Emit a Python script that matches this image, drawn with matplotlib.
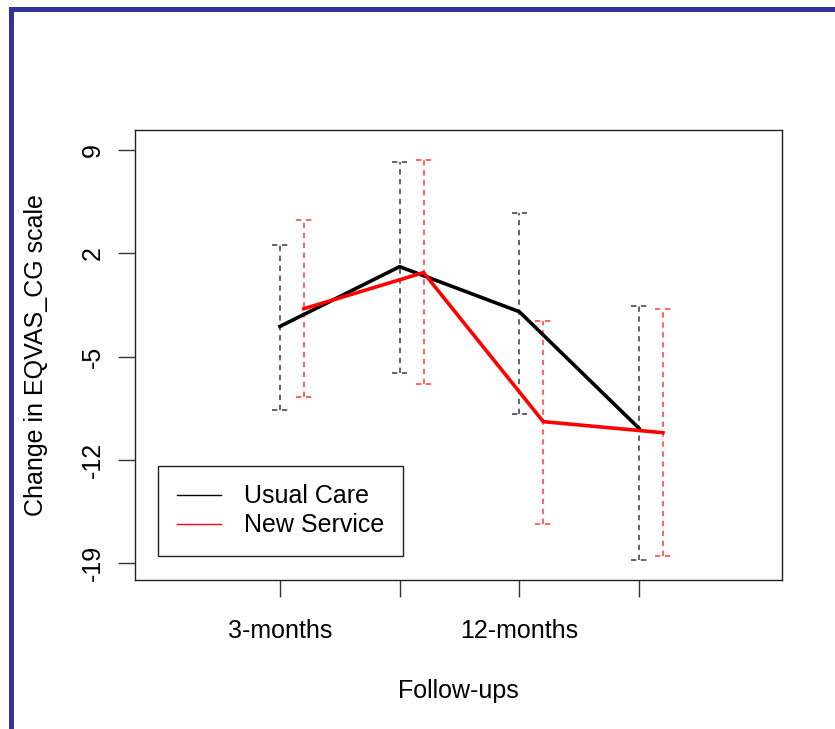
import matplotlib
matplotlib.use("Agg")
import matplotlib.pyplot as plt
from matplotlib.lines import Line2D
from matplotlib.patches import Rectangle
import numpy as np

plt.rcParams['font.family'] = ['Liberation Sans', 'DejaVu Sans']

# follow-up points (x positions 1..4), red series drawn with small offset
visits = [1, 2, 3, 4]
tick_labels = ["3-months", "", "12-months", ""]
offset = 0.2

usual_mean = [-2.95, 1.1, -1.95, -9.85]
usual_low = [-8.6, -6.1, -8.85, -18.75]
usual_high = [2.55, 8.2, 4.75, -1.55]

new_mean = [-1.75, 0.7, -9.4, -10.15]
new_low = [-7.7, -6.85, -16.35, -18.5]
new_high = [4.25, 8.35, -2.6, -1.8]

y_ticks = [9, 2, -5, -12, -19]

W, H = 835, 729
fig = plt.figure(figsize=(W / 100, H / 100), dpi=100)
fig.patch.set_facecolor('white')

# blue frame at left and top
fig.add_artist(Rectangle((9 / W, 0), 5 / W, 1 - 6.7 / H, transform=fig.transFigure,
                         facecolor='#333399', edgecolor='none'))
fig.add_artist(Rectangle((9 / W, 1 - 11.7 / H), 1 - 9 / W, 5 / H, transform=fig.transFigure,
                         facecolor='#333399', edgecolor='none'))

ax = fig.add_axes([135 / W, (H - 580) / H, (782 - 135) / W, (580 - 130) / H])

x1 = np.array(visits, dtype=float)
x2 = x1 + offset
cap = 0.065
dash = (0, (3.5, 3))


def draw_bars(x, low, high, color):
    ax.vlines(x, low, high, colors=color, linestyles=dash, lw=1.1)
    ax.hlines(low, x - cap, x + cap, colors=color, linestyles=dash, lw=1.1)
    ax.hlines(high, x - cap, x + cap, colors=color, linestyles=dash, lw=1.1)


draw_bars(x1, usual_low, usual_high, '#3a3a3a')
draw_bars(x2, new_low, new_high, '#ff3838')

ax.plot(x1, usual_mean, color='black', lw=2.6)
ax.plot(x2, new_mean, color='#ff0000', lw=2.6)

ax.set_xlim(-0.211, 5.195)
ax.set_ylim(-20.13, 10.36)

ax.set_xticks(visits)
ax.set_xticklabels(tick_labels, fontsize=18)
ax.set_yticks(y_ticks)
ax.set_yticklabels([str(v) for v in y_ticks], fontsize=18, rotation=90, va='center')
ax.tick_params(axis='both', length=12, width=1, color='#333333', direction='out')
ax.tick_params(axis='x', pad=16)
ax.tick_params(axis='y', pad=10)
for s in ax.spines.values():
    s.set_linewidth(1)
    s.set_color('#222222')

ax.set_xlabel("Follow-ups", fontsize=18, labelpad=26)
ax.set_ylabel("Change in EQVAS_CG scale", fontsize=18, labelpad=23)

handles = [Line2D([], [], color='black', lw=1),
           Line2D([], [], color='#ff0000', lw=1)]
leg = ax.legend(handles, ["Usual Care", "New Service"], fontsize=18,
                loc='lower left', bbox_to_anchor=(0.0355, 0.0533),
                borderaxespad=0, fancybox=False, framealpha=1,
                edgecolor='#222222', handlelength=1.76, handletextpad=0.95,
                labelspacing=0.2, borderpad=0.75)
leg.get_frame().set_linewidth(1)

fig.savefig("out.png", dpi=100)
